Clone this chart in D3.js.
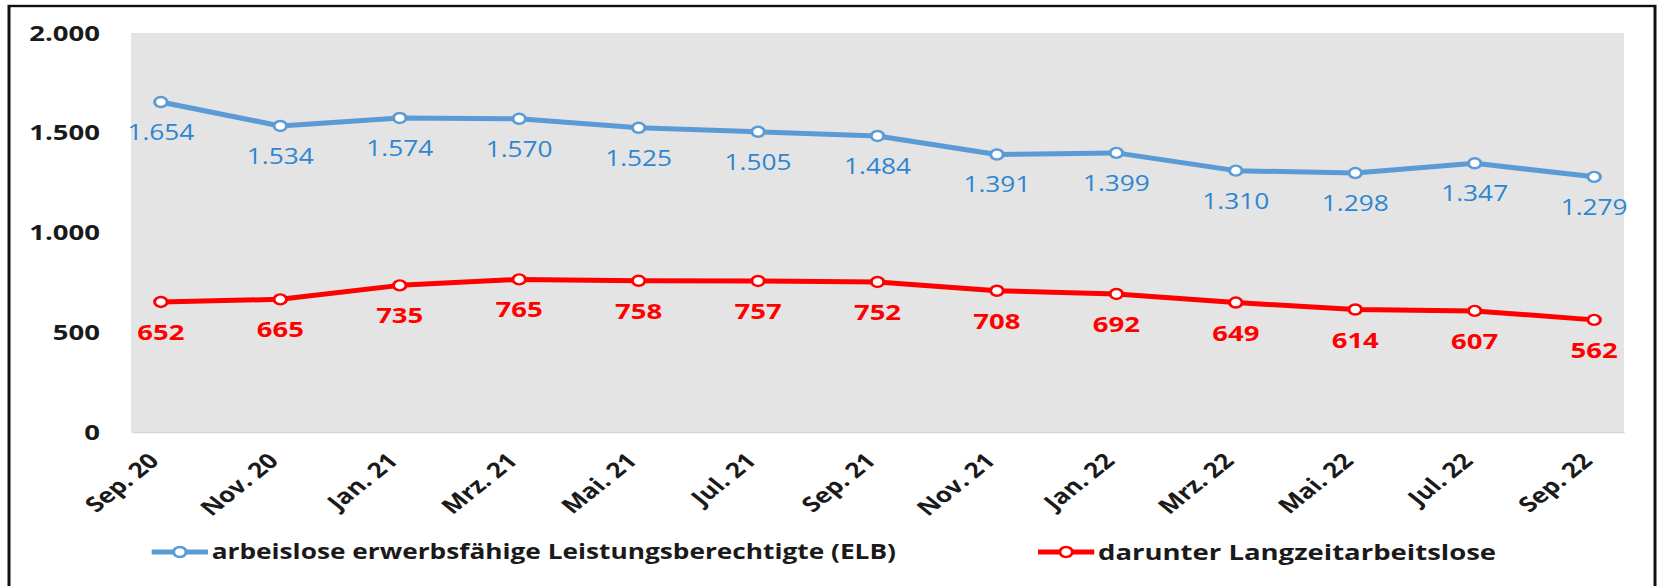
<!DOCTYPE html>
<html>
<head>
<meta charset="utf-8">
<script src="https://cdn.jsdelivr.net/npm/d3@7"></script>
<style>
  html, body { margin: 0; padding: 0; background: #ffffff; }
  svg { display: block; }
  text { font-family: "Open Sans", sans-serif; }
</style>
</head>
<body>
<div id="chart"></div>
<script>
// data
const months = ['Sep. 20', 'Nov. 20', 'Jan. 21', 'Mrz. 21', 'Mai. 21', 'Jul. 21', 'Sep. 21',
    'Nov. 21', 'Jan. 22', 'Mrz. 22', 'Mai. 22', 'Jul. 22', 'Sep. 22']
const elb = [1654, 1534, 1574, 1570, 1525, 1505, 1484, 1391, 1399, 1310, 1298, 1347, 1279]
const langzeit = [652, 665, 735, 765, 758, 757, 752, 708, 692, 649, 614, 607, 562]
const yTicks = [0, 500, 1000, 1500, 2000]
const seriesNames = ['arbeislose erwerbsfähige Leistungsberechtigte (ELB)', 'darunter Langzeitarbeitslose']

const W = 1657, H = 586
// the source picture is stretched sideways, so draw in a narrower box and let the viewBox widen it
const stretch = 1.25
const w = W / stretch

const de = d3.formatLocale({ decimal: ',', thousands: '.', grouping: [3], currency: ['', ' €'] })
const fmt = de.format(',d')

const blue = '#5B9BD5', blueText = '#2E86D1', red = '#FF0000'

const svg = d3.select('#chart')
    .append('svg')
    .attr('width', W)
    .attr('height', H)
    .attr('viewBox', `0 0 ${w} ${H}`)
    .attr('preserveAspectRatio', 'none')

// frame
svg.append('rect')
    .attr('x', 9 / stretch)
    .attr('y', 6)
    .attr('width', (1655 - 9) / stretch)
    .attr('height', 620)
    .attr('fill', 'none')
    .attr('stroke', '#111')
    .attr('stroke-width', 2.4)

const pLeft = 131 / stretch, pRight = 1624 / stretch, pTop = 33, pBottom = 432

const x = d3.scalePoint()
    .domain(months)
    .range([pLeft, pRight])
    .padding(0.25)

const y = d3.scaleLinear()
    .domain([0, 2000])
    .range([pBottom, pTop])

svg.append('rect')
    .attr('x', pLeft)
    .attr('y', pTop)
    .attr('width', pRight - pLeft)
    .attr('height', pBottom - pTop)
    .attr('fill', '#E4E4E4')

// y axis
const yAxis = svg.append('g')
    .attr('transform', 'translate(88,0)')
    .call(d3.axisLeft(y).tickValues(yTicks).tickSize(0).tickPadding(8).tickFormat(fmt))
yAxis.select('.domain').remove()
yAxis.selectAll('text')
    .style('font-family', '"Open Sans", sans-serif')
    .style('font-size', '22px')
    .style('font-weight', 'bold')
    .attr('fill', '#1a1a1a')

// x axis
const xAxis = svg.append('g')
    .attr('transform', `translate(0,${pBottom})`)
    .call(d3.axisBottom(x).tickSize(0).tickSizeOuter(0))
xAxis.select('.domain')
    .attr('stroke', '#D6D6D6')
    .attr('stroke-width', 1.5)
xAxis.selectAll('text')
    .attr('x', 0)
    .attr('y', 0)
    .attr('dy', '0.35em')
    .attr('transform', 'translate(-6,25) rotate(-45)')
    .style('text-anchor', 'end')
    .style('font-family', '"Open Sans", sans-serif')
    .style('font-size', '21px')
    .style('font-weight', 'bold')
    .attr('fill', '#1a1a1a')

const line = d3.line()
    .x((d, i) => x(months[i]))
    .y(d => y(d))

function drawSeries(values, color, labelColor, bold) {
    svg.append('path')
        .datum(values)
        .attr('d', line)
        .attr('fill', 'none')
        .attr('stroke', color)
        .attr('stroke-width', 5)
        .attr('stroke-linejoin', 'round')

    svg.append('g').selectAll('circle')
        .data(values)
        .enter()
        .append('circle')
        .attr('cx', (d, i) => x(months[i]))
        .attr('cy', d => y(d))
        .attr('r', 5)
        .attr('fill', '#fff')
        .attr('stroke', color)
        .attr('stroke-width', 2.4)

    svg.append('g').selectAll('text')
        .data(values)
        .enter()
        .append('text')
        .attr('x', (d, i) => x(months[i]))
        .attr('y', d => y(d) + 38)
        .attr('text-anchor', 'middle')
        .style('font-size', bold ? '22px' : '21px')
        .style('font-weight', bold ? 'bold' : 'normal')
        .attr('fill', labelColor)
        .text(d => fmt(d))
}

drawSeries(elb, blue, blueText, false)
drawSeries(langzeit, red, red, true)

// legend
const legend = [
    { name: seriesNames[0], color: blue, x0: 151.7 / stretch, size: '21px' },
    { name: seriesNames[1], color: red, x0: 1038 / stretch, size: '22px' }
]
const ly = 552
const lg = svg.append('g')
legend.forEach(l => {
    lg.append('line')
        .attr('x1', l.x0).attr('x2', l.x0 + 45)
        .attr('y1', ly).attr('y2', ly)
        .attr('stroke', l.color)
        .attr('stroke-width', 5)
    lg.append('circle')
        .attr('cx', l.x0 + 22.5)
        .attr('cy', ly)
        .attr('r', 5)
        .attr('fill', '#fff')
        .attr('stroke', l.color)
        .attr('stroke-width', 2.4)
    lg.append('text')
        .attr('x', l.x0 + 48)
        .attr('y', ly)
        .attr('dy', '0.35em')
        .style('font-size', l.size)
        .style('font-weight', 'bold')
        .attr('fill', '#1a1a1a')
        .text(l.name)
})
</script>
</body>
</html>
